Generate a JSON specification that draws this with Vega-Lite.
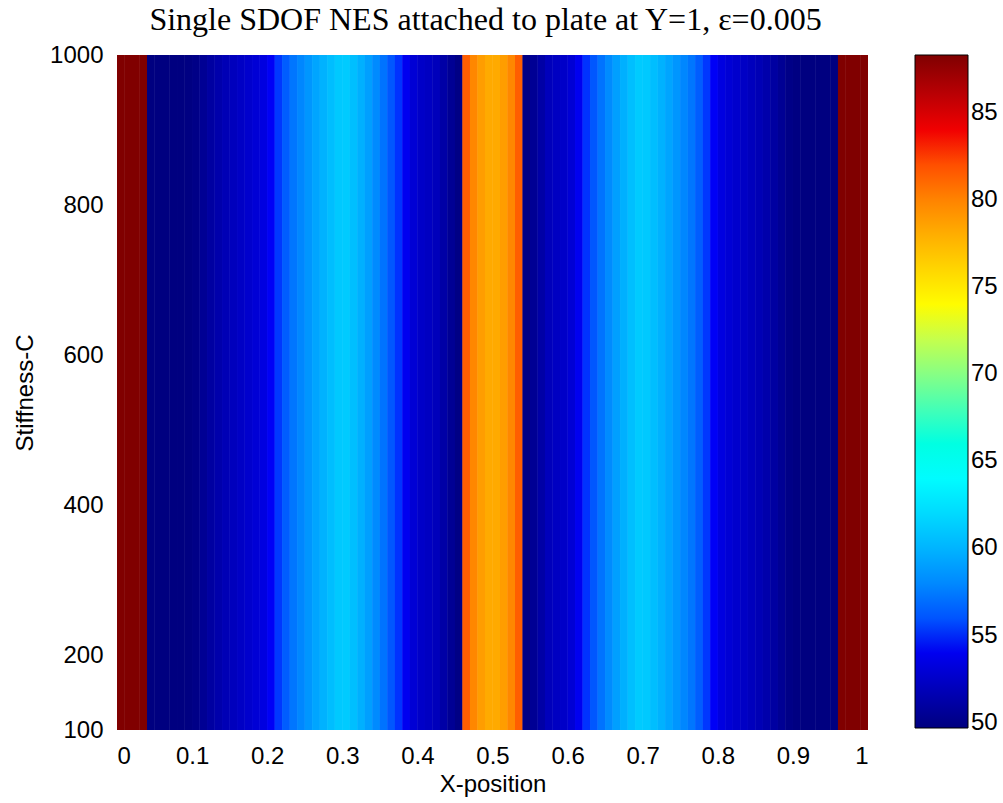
{
  "$schema": "https://vega.github.io/schema/vega-lite/v6.json",
  "autosize": {"type": "none"},
  "padding": {"left": 117, "top": 55, "right": 135, "bottom": 73},
  "width": 751,
  "height": 675,
  "background": "white",
  "title": {
    "text": "Single SDOF NES attached to plate at Y=1, ε=0.005",
    "font": "Liberation Serif",
    "fontSize": 32,
    "fontWeight": "normal",
    "color": "black",
    "anchor": "middle",
    "frame": "group",
    "dx": -7,
    "offset": 6
  },
  "data": {
    "values": [
      {"x0": 0.00, "x1": 0.01, "v": 88.3},
      {"x0": 0.01, "x1": 0.02, "v": 88.3},
      {"x0": 0.02, "x1": 0.03, "v": 88.3},
      {"x0": 0.03, "x1": 0.04, "v": 88.3},
      {"x0": 0.04, "x1": 0.05, "v": 49.7},
      {"x0": 0.05, "x1": 0.06, "v": 49.7},
      {"x0": 0.06, "x1": 0.07, "v": 49.7},
      {"x0": 0.07, "x1": 0.08, "v": 49.7},
      {"x0": 0.08, "x1": 0.09, "v": 49.7},
      {"x0": 0.09, "x1": 0.10, "v": 49.8},
      {"x0": 0.10, "x1": 0.11, "v": 50.0},
      {"x0": 0.11, "x1": 0.12, "v": 50.5},
      {"x0": 0.12, "x1": 0.13, "v": 51.0},
      {"x0": 0.13, "x1": 0.14, "v": 51.4},
      {"x0": 0.14, "x1": 0.15, "v": 51.8},
      {"x0": 0.15, "x1": 0.16, "v": 52.1},
      {"x0": 0.16, "x1": 0.17, "v": 52.4},
      {"x0": 0.17, "x1": 0.18, "v": 52.7},
      {"x0": 0.18, "x1": 0.19, "v": 53.0},
      {"x0": 0.19, "x1": 0.20, "v": 53.4},
      {"x0": 0.20, "x1": 0.21, "v": 54.2},
      {"x0": 0.21, "x1": 0.22, "v": 55.2},
      {"x0": 0.22, "x1": 0.23, "v": 56.3},
      {"x0": 0.23, "x1": 0.24, "v": 57.2},
      {"x0": 0.24, "x1": 0.25, "v": 57.9},
      {"x0": 0.25, "x1": 0.26, "v": 58.6},
      {"x0": 0.26, "x1": 0.27, "v": 59.3},
      {"x0": 0.27, "x1": 0.28, "v": 59.9},
      {"x0": 0.28, "x1": 0.29, "v": 60.5},
      {"x0": 0.29, "x1": 0.30, "v": 61.1},
      {"x0": 0.30, "x1": 0.31, "v": 61.2},
      {"x0": 0.31, "x1": 0.32, "v": 60.6},
      {"x0": 0.32, "x1": 0.33, "v": 59.8},
      {"x0": 0.33, "x1": 0.34, "v": 59.0},
      {"x0": 0.34, "x1": 0.35, "v": 58.1},
      {"x0": 0.35, "x1": 0.36, "v": 57.1},
      {"x0": 0.36, "x1": 0.37, "v": 56.1},
      {"x0": 0.37, "x1": 0.38, "v": 55.1},
      {"x0": 0.38, "x1": 0.39, "v": 54.0},
      {"x0": 0.39, "x1": 0.40, "v": 53.0},
      {"x0": 0.40, "x1": 0.41, "v": 52.5},
      {"x0": 0.41, "x1": 0.42, "v": 52.3},
      {"x0": 0.42, "x1": 0.43, "v": 52.0},
      {"x0": 0.43, "x1": 0.44, "v": 51.2},
      {"x0": 0.44, "x1": 0.45, "v": 50.5},
      {"x0": 0.45, "x1": 0.46, "v": 49.9},
      {"x0": 0.46, "x1": 0.47, "v": 81.5},
      {"x0": 0.47, "x1": 0.48, "v": 79.8},
      {"x0": 0.48, "x1": 0.49, "v": 78.8},
      {"x0": 0.49, "x1": 0.50, "v": 78.2},
      {"x0": 0.50, "x1": 0.51, "v": 78.2},
      {"x0": 0.51, "x1": 0.52, "v": 78.8},
      {"x0": 0.52, "x1": 0.53, "v": 79.8},
      {"x0": 0.53, "x1": 0.54, "v": 81.5},
      {"x0": 0.54, "x1": 0.55, "v": 49.9},
      {"x0": 0.55, "x1": 0.56, "v": 50.5},
      {"x0": 0.56, "x1": 0.57, "v": 51.2},
      {"x0": 0.57, "x1": 0.58, "v": 52.0},
      {"x0": 0.58, "x1": 0.59, "v": 52.3},
      {"x0": 0.59, "x1": 0.60, "v": 52.5},
      {"x0": 0.60, "x1": 0.61, "v": 53.0},
      {"x0": 0.61, "x1": 0.62, "v": 54.0},
      {"x0": 0.62, "x1": 0.63, "v": 55.1},
      {"x0": 0.63, "x1": 0.64, "v": 56.1},
      {"x0": 0.64, "x1": 0.65, "v": 57.1},
      {"x0": 0.65, "x1": 0.66, "v": 58.1},
      {"x0": 0.66, "x1": 0.67, "v": 59.0},
      {"x0": 0.67, "x1": 0.68, "v": 59.8},
      {"x0": 0.68, "x1": 0.69, "v": 60.6},
      {"x0": 0.69, "x1": 0.70, "v": 61.2},
      {"x0": 0.70, "x1": 0.71, "v": 61.1},
      {"x0": 0.71, "x1": 0.72, "v": 60.5},
      {"x0": 0.72, "x1": 0.73, "v": 59.9},
      {"x0": 0.73, "x1": 0.74, "v": 59.3},
      {"x0": 0.74, "x1": 0.75, "v": 58.6},
      {"x0": 0.75, "x1": 0.76, "v": 57.9},
      {"x0": 0.76, "x1": 0.77, "v": 57.2},
      {"x0": 0.77, "x1": 0.78, "v": 56.3},
      {"x0": 0.78, "x1": 0.79, "v": 55.2},
      {"x0": 0.79, "x1": 0.80, "v": 54.2},
      {"x0": 0.80, "x1": 0.81, "v": 53.4},
      {"x0": 0.81, "x1": 0.82, "v": 53.0},
      {"x0": 0.82, "x1": 0.83, "v": 52.7},
      {"x0": 0.83, "x1": 0.84, "v": 52.4},
      {"x0": 0.84, "x1": 0.85, "v": 52.1},
      {"x0": 0.85, "x1": 0.86, "v": 51.8},
      {"x0": 0.86, "x1": 0.87, "v": 51.4},
      {"x0": 0.87, "x1": 0.88, "v": 51.0},
      {"x0": 0.88, "x1": 0.89, "v": 50.5},
      {"x0": 0.89, "x1": 0.90, "v": 50.0},
      {"x0": 0.90, "x1": 0.91, "v": 49.8},
      {"x0": 0.91, "x1": 0.92, "v": 49.7},
      {"x0": 0.92, "x1": 0.93, "v": 49.7},
      {"x0": 0.93, "x1": 0.94, "v": 49.7},
      {"x0": 0.94, "x1": 0.95, "v": 49.7},
      {"x0": 0.95, "x1": 0.96, "v": 49.7},
      {"x0": 0.96, "x1": 0.97, "v": 88.3},
      {"x0": 0.97, "x1": 0.98, "v": 88.3},
      {"x0": 0.98, "x1": 0.99, "v": 88.3},
      {"x0": 0.99, "x1": 1.00, "v": 88.3}
    ]
  },
  "encoding": {
    "x": {
      "field": "x0",
      "type": "quantitative",
      "scale": {"domain": [0, 1], "nice": false, "zero": false},
      "axis": {
        "title": "X-position",
        "values": [0, 0.1, 0.2, 0.3, 0.4, 0.5, 0.6, 0.7, 0.8, 0.9, 1],
        "format": "~g",
        "titlePadding": 4
      }
    },
    "x2": {"field": "x1"},
    "y": {
      "datum": 100,
      "type": "quantitative",
      "scale": {"domain": [100, 1000], "nice": false, "zero": false},
      "axis": {
        "title": "Stiffness-C",
        "values": [100, 200, 400, 600, 800, 1000],
        "format": "d",
        "titlePadding": 12
      }
    },
    "y2": {"datum": 1000},
    "color": {
      "field": "v",
      "type": "quantitative",
      "scale": {
        "type": "linear",
        "domain": [49.7, 54.525, 64.175, 73.825, 83.475, 88.3],
        "range": ["#000080", "#0000ff", "#00ffff", "#ffff00", "#ff0000", "#800000"],
        "clamp": true
      },
      "legend": {
        "type": "gradient",
        "direction": "vertical",
        "title": null,
        "orient": "right",
        "offset": 47,
        "padding": 0,
        "gradientLength": 673,
        "gradientThickness": 53,
        "gradientStrokeColor": "black",
        "gradientStrokeWidth": 1,
        "values": [50, 55, 60, 65, 70, 75, 80, 85],
        "labelFont": "Liberation Sans",
        "labelFontSize": 24,
        "labelColor": "black",
        "labelOffset": 3,
        "labelBaseline": "middle",
        "labelOverlap": false
      }
    }
  },
  "layer": [
    {"mark": {"type": "rect"}},
    {"mark": {"type": "rect"}}
  ],
  "config": {
    "view": {"stroke": null},
    "axis": {
      "ticks": false,
      "tickSize": 0,
      "domain": false,
      "grid": false,
      "labelFont": "Liberation Sans",
      "labelFontSize": 24,
      "labelColor": "black",
      "labelPadding": 14,
      "titleFont": "Liberation Sans",
      "titleFontSize": 24,
      "titleFontWeight": "normal",
      "titleColor": "black"
    },
    "legend": {
      "gradientVerticalMaxLength": 800,
      "gradientVerticalMinLength": 100
    }
  }
}
